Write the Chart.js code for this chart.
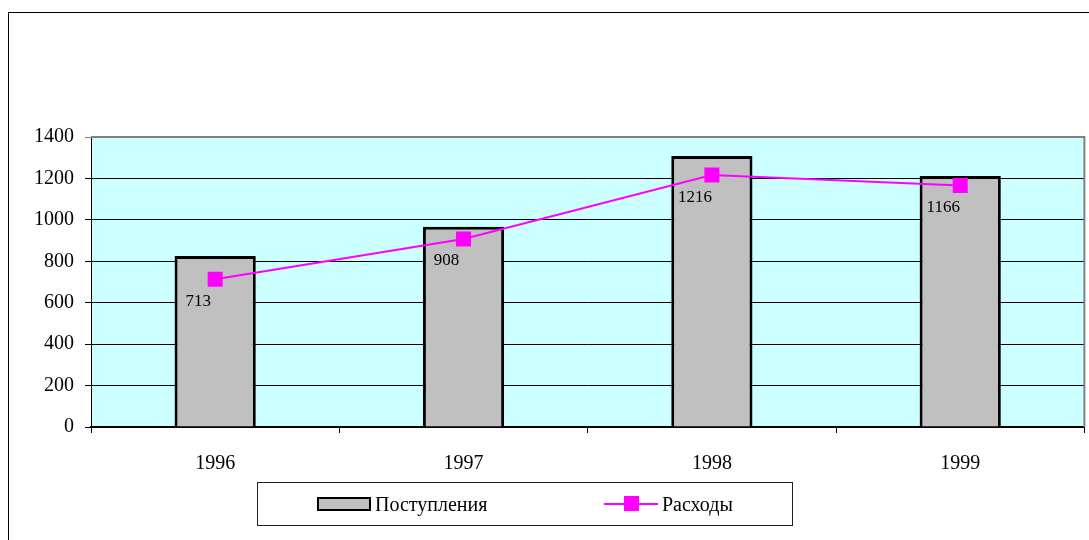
<!DOCTYPE html>
<html>
<head>
<meta charset="utf-8">
<script src="https://cdn.jsdelivr.net/npm/chart.js@4"></script>
<style>
  body { margin: 0; background: #fff; }
  #wrap { position: relative; width: 1089px; height: 540px; overflow: hidden; }
  #frame { position: absolute; left: 8px; top: 12px; width: 1100px; height: 600px; border: 1px solid #000; }
  #chart-box { position: absolute; left: 0; top: 0; width: 1095px; height: 540px; }
  #legend { position: absolute; left: 257px; top: 482px; width: 534px; height: 42px; border: 1px solid #222;
            font-family: 'Liberation Serif', 'Times New Roman', serif; font-size: 20px; color: #000; }
  .lg-item { position: absolute; top: 0; height: 42px; display: flex; align-items: center; }
  .sw-bar { width: 50px; height: 10px; border: 2px solid #000; margin-right: 4px; }
  .sw-line { position: relative; width: 54px; height: 2px; margin-right: 4px; }
  .sw-line span { position: absolute; left: 20px; top: -7px; width: 15px; height: 15px; }
</style>
</head>
<body>
<div id="wrap">
  <div id="frame"></div>
  <div id="chart-box"><canvas id="grafico"></canvas></div>
  <div id="legend"></div>
</div>
<script>
  const anos = ['1996', '1997', '1998', '1999'];
  const postuplenia = [826, 967, 1308, 1212];
  const rashody = [713, 908, 1216, 1166];
  const yTicks = [0, 200, 400, 600, 800, 1000, 1200, 1400];

  const serif = "'Liberation Serif', 'Times New Roman', serif";

  // fundo da área de plotagem + borda cinza
  const fundoPlot = {
    id: 'fundoPlot',
    beforeDraw(chart) {
      const { ctx, chartArea: a } = chart;
      ctx.save();
      ctx.fillStyle = '#CCFFFF';
      ctx.fillRect(a.left, a.top, a.right - a.left, a.bottom - a.top);
      ctx.restore();
    },
    afterDatasetsDraw(chart) {
      const { ctx, chartArea: a } = chart;
      ctx.save();
      ctx.strokeStyle = '#808080';
      ctx.lineWidth = 2;
      ctx.beginPath();
      ctx.moveTo(a.left, a.top);
      ctx.lineTo(a.right, a.top);
      ctx.lineTo(a.right, a.bottom);
      ctx.stroke();
      ctx.restore();
    }
  };

  // rótulos de valor da linha (dataset 0 = Расходы)
  const rotulos = {
    id: 'rotulos',
    afterDatasetsDraw(chart) {
      const { ctx } = chart;
      const meta = chart.getDatasetMeta(0);
      ctx.save();
      ctx.font = '17px ' + serif;
      ctx.fillStyle = '#000';
      ctx.textAlign = 'center';
      ctx.textBaseline = 'middle';
      meta.data.forEach((pt, i) => {
        ctx.fillText(String(rashody[i]), pt.x - 17, pt.y + 22);
      });
      ctx.restore();
    }
  };

  const chart = new Chart(document.getElementById('grafico'), {
    data: {
      labels: anos,
      datasets: [
        {
          type: 'line',
          label: 'Расходы',
          data: rashody,
          borderColor: '#FF00FF',
          backgroundColor: '#FF00FF',
          borderWidth: 2,
          pointStyle: 'rect',
          pointRadius: 10.6,
          pointBorderWidth: 0,
          pointBackgroundColor: '#FF00FF',
          order: 0
        },
        {
          type: 'bar',
          label: 'Поступления',
          data: postuplenia,
          backgroundColor: '#C0C0C0',
          borderColor: '#000',
          borderWidth: 3,
          categoryPercentage: 1,
          barPercentage: 0.327,
          order: 1
        }
      ]
    },
    options: {
      responsive: true,
      maintainAspectRatio: false,
      animation: false,
      layout: { padding: { left: 0, top: 137, right: 0, bottom: 62 } },
      plugins: { legend: { display: false }, tooltip: { enabled: false } },
      scales: {
        x: {
          offset: true,
          grid: { offset: true, drawOnChartArea: false, drawTicks: true, tickLength: 6, color: '#000', lineWidth: 1 },
          border: { color: '#000', width: 2 },
          ticks: { font: { family: serif, size: 20 }, color: '#000', padding: 19, maxRotation: 0 },
          afterFit: s => { s.height = 51; }
        },
        y: {
          min: 0,
          max: 1400,
          afterBuildTicks: s => { s.ticks = yTicks.map(v => ({ value: v })); },
          grid: {
            color: c => (c.tick && c.tick.value === 1400) ? '#808080' : '#000',
            lineWidth: 1,
            tickLength: 6
          },
          border: { color: '#000', width: 1 },
          ticks: { font: { family: serif, size: 20 }, color: '#000', padding: 11, callback: v => String(v) },
          afterFit: s => { s.width = 91; }
        }
      }
    },
    plugins: [fundoPlot, rotulos]
  });

  // legenda em HTML
  function montarLegenda() {
    const lg = document.getElementById('legend');
    const bar = chart.data.datasets[1];
    const lin = chart.data.datasets[0];
    lg.innerHTML = `
      <div class="lg-item" style="left:59px">
        <div class="sw-bar" style="background:${bar.backgroundColor}"></div>${bar.label}
      </div>
      <div class="lg-item" style="left:346px">
        <div class="sw-line" style="background:${lin.borderColor}"><span style="background:${lin.borderColor}"></span></div>${lin.label}
      </div>`;
  }
  montarLegenda();
</script>
</body>
</html>
